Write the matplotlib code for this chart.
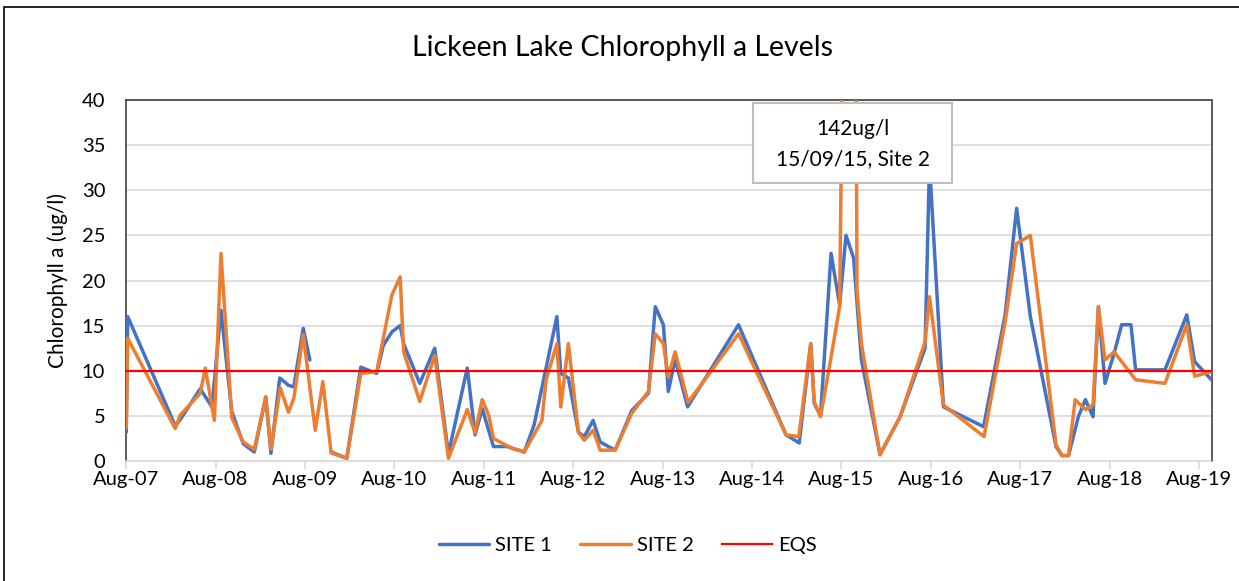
import matplotlib
matplotlib.use('Agg')
import matplotlib.pyplot as plt
import matplotlib.dates as mdates
from matplotlib.patches import Rectangle
import numpy as np
import pandas as pd

# Site 1 samples (ug/l)
site1_dates = [
    '2007-08-02', '2007-08-08', '2008-02-18', '2008-03-10', '2008-05-30', '2008-07-17',
    '2008-08-23', '2008-10-06', '2008-11-22', '2009-01-06', '2009-02-22', '2009-03-15',
    '2009-04-20', '2009-05-25', '2009-06-16', '2009-07-25', '2009-08-21', '2009-09-30',
    '2009-11-16', '2010-01-19', '2010-03-17', '2010-05-21', '2010-06-17', '2010-07-22',
    '2010-08-25', '2010-09-08', '2010-11-13', '2011-01-13', '2011-03-10', '2011-05-26',
    '2011-06-27', '2011-07-26', '2011-09-10', '2011-11-05', '2012-01-14', '2012-02-23',
    '2012-05-26', '2012-06-11', '2012-07-12', '2012-08-22', '2012-09-15', '2012-10-21',
    '2012-11-19', '2013-01-19', '2013-03-28', '2013-06-04', '2013-07-02', '2013-08-04',
    '2013-08-24', '2013-09-21', '2013-11-11', '2014-06-07', '2014-12-18', '2015-02-10',
    '2015-03-29', '2015-04-12', '2015-05-08', '2015-06-20', '2015-07-25', '2015-08-20',
    '2015-09-20', '2015-10-22', '2016-01-06', '2016-03-28', '2016-07-08', '2016-07-26',
    '2016-09-21', '2017-03-04', '2017-05-31', '2017-07-17', '2017-09-11', '2017-12-25',
    '2018-01-18', '2018-02-14', '2018-03-26', '2018-04-24', '2018-05-25', '2018-06-16',
    '2018-07-13', '2018-08-19', '2018-09-19', '2018-10-27', '2018-11-15', '2019-03-15',
    '2019-06-12', '2019-07-14', '2019-09-21',
]
site1_values = [
    3.2, 16.0, 3.9, 4.6, 8.0, 6.0,
    16.7, 5.5, 1.9, 1.0, 7.1, 0.85,
    9.2, 8.4, 8.2, 14.7, 11.2, np.nan,
    1.0, 0.3, 10.4, 9.7, 12.8, 14.3,
    15.0, 13.0, 8.6, 12.5, 0.8, 10.3,
    2.9, 5.8, 1.6, 1.6, 1.0, 4.0,
    16.0, 9.7, 9.2, 3.2, 2.7, 4.5,
    2.1, 1.2, 5.6, 7.5, 17.1, 15.1,
    7.7, 11.3, 6.0, 15.1, 2.9, 2.0,
    13.0, 6.4, 5.0, 23.0, 17.3, 25.0,
    22.5, 11.2, 0.7, 4.9, 12.5, 33.0,
    6.0, 3.8, 16.2, 28.0, 16.0, 1.6,
    0.6, 0.6, 4.9, 6.8, 4.9, 17.1,
    8.6, 11.9, 15.1, 15.1, 10.1, 10.1,
    16.2, 11.0, 9.0,
]

# Site 2 samples (ug/l)
site2_dates = [
    '2007-08-02', '2007-08-08', '2008-02-18', '2008-03-10', '2008-05-30', '2008-06-20',
    '2008-07-27', '2008-08-23', '2008-10-06', '2008-11-22', '2009-01-06', '2009-02-22',
    '2009-03-15', '2009-04-22', '2009-05-26', '2009-06-17', '2009-07-25', '2009-09-12',
    '2009-10-13', '2009-11-16', '2010-01-19', '2010-03-17', '2010-05-21', '2010-07-22',
    '2010-08-25', '2010-09-08', '2010-11-13', '2011-01-13', '2011-03-10', '2011-05-26',
    '2011-06-27', '2011-07-26', '2011-08-21', '2011-09-10', '2011-11-24', '2012-01-14',
    '2012-03-26', '2012-04-12', '2012-05-26', '2012-06-11', '2012-07-12', '2012-08-22',
    '2012-09-15', '2012-10-21', '2012-11-19', '2013-01-19', '2013-03-28', '2013-06-04',
    '2013-07-02', '2013-08-04', '2013-08-24', '2013-09-21', '2013-11-13', '2014-06-07',
    '2014-12-18', '2015-02-08', '2015-03-29', '2015-04-12', '2015-05-08', '2015-06-20',
    '2015-07-25', '2015-09-15', '2015-10-04', '2015-10-22', '2016-01-06', '2016-03-28',
    '2016-07-08', '2016-07-26', '2016-09-21', '2017-03-06', '2017-05-31', '2017-07-17',
    '2017-09-11', '2017-12-25', '2018-01-18', '2018-02-14', '2018-03-13', '2018-04-24',
    '2018-05-25', '2018-06-16', '2018-07-13', '2018-08-19', '2018-11-15', '2019-03-15',
    '2019-06-12', '2019-07-14', '2019-09-21',
]
site2_values = [
    3.7, 13.6, 3.6, 5.1, 7.5, 10.3,
    4.5, 23.0, 4.8, 2.1, 1.3, 7.1,
    1.3, 8.1, 5.4, 7.0, 14.0, 3.4,
    8.8, 0.9, 0.3, 9.7, 9.9, 18.4,
    20.4, 12.1, 6.6, 11.7, 0.3, 5.7,
    3.1, 6.8, 5.1, 2.5, 1.4, 1.0,
    4.5, 9.0, 13.0, 6.0, 13.0, 3.2,
    2.3, 3.4, 1.2, 1.2, 5.3, 7.7,
    14.1, 13.0, 9.3, 12.1, 6.5, 14.1,
    2.9, 2.7, 13.0, 6.6, 4.9, 11.5,
    17.1, 142.0, 19.0, 13.0, 0.7, 4.9,
    13.2, 18.2, 6.2, 2.7, 15.4, 24.1,
    25.0, 1.8, 0.6, 0.6, 6.8, 5.7,
    6.2, 17.1, 11.2, 12.1, 9.0, 8.6,
    15.1, 9.4, 9.9,
]

eqs_level = 10
axis_start = '2007-08-01'
y_ticks = [0, 5, 10, 15, 20, 25, 30, 35, 40]
callout_text = '142ug/l\n15/09/15, Site 2'

plt.rcParams['font.family'] = ['Lato', 'DejaVu Sans']

fig = plt.figure(figsize=(12.39, 5.81), dpi=100)
ax = fig.add_axes([126 / 1239, 1 - 461 / 581, (1211.5 - 126) / 1239, 361 / 581])

d1 = pd.to_datetime(site1_dates)
d2 = pd.to_datetime(site2_dates)

ax.plot(d1, site1_values, color='#4472C4', lw=2.5, solid_joinstyle='round',
        solid_capstyle='round', label='SITE 1', zorder=3)
ax.plot(d2, site2_values, color='#ED7D31', lw=2.5, solid_joinstyle='round',
        solid_capstyle='round', label='SITE 2', zorder=4)
ax.axhline(eqs_level, color='#FF0000', lw=1.6, label='EQS', zorder=5)

# axes
ax.set_xlim(pd.Timestamp(axis_start), d1.max())
ax.set_ylim(y_ticks[0], y_ticks[-1])
ax.set_yticks(y_ticks)
ax.xaxis.set_major_locator(mdates.MonthLocator(bymonth=8, bymonthday=1))
ax.xaxis.set_major_formatter(mdates.DateFormatter('%b-%y'))
ax.grid(axis='y', color='#D9D9D9', lw=1.2, zorder=0)
ax.set_axisbelow(True)
for s in ['left', 'top', 'right']:
    ax.spines[s].set_color('#404040')
    ax.spines[s].set_linewidth(1.2)
ax.spines['bottom'].set_color('#D9D9D9')
ax.spines['bottom'].set_linewidth(1.2)
ax.tick_params(axis='y', length=0, labelsize=14.5, pad=15)
ax.tick_params(axis='x', length=5.5, color='#D9D9D9', width=1.2, labelsize=14.5, pad=2)
ax.set_ylabel('Chlorophyll a (ug/l)', fontsize=15, labelpad=10)

fig.text(622 / 1239, 1 - 48 / 581, 'Lickeen Lake Chlorophyll a Levels', ha='center',
         va='center', fontsize=20.5)

# callout box over the clipped peak
box = Rectangle((0.5773, 0.7693), 0.1839, 0.2216, transform=ax.transAxes,
                facecolor='white', edgecolor='#BFBFBF', lw=1.5, zorder=10)
ax.add_patch(box)
ax.text(0.6693, 0.878, callout_text, transform=ax.transAxes, ha='center', va='center',
        fontsize=15, linespacing=1.6, zorder=11)

fig.legend(loc='center', bbox_to_anchor=(628 / 1239, 1 - 545 / 581), ncol=3,
           frameon=False, fontsize=14.5, handlelength=2.5, handletextpad=0.3,
           columnspacing=1.4)

# outer chart border
fig.add_artist(Rectangle((4 / 1239, -0.05), 1.2, 1 - 7 / 581 + 0.05, transform=fig.transFigure,
                         facecolor='none', edgecolor='black', lw=1.2))

fig.savefig('out.png', dpi=100)
